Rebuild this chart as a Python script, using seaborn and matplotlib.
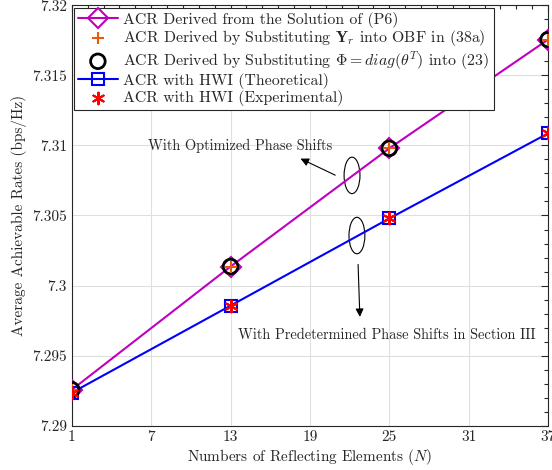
import numpy as np
import pandas as pd
import matplotlib
matplotlib.use("Agg")
import matplotlib.pyplot as plt
import seaborn as sns
from matplotlib.patches import Ellipse
from matplotlib.ticker import AutoMinorLocator

# 数据
N = [1, 13, 25, 37]
acr_p6 = [7.29257, 7.30136, 7.30979, 7.31755]
acr_yr = [7.29257, 7.30136, 7.30979, 7.31755]
acr_phi = [7.29257, 7.30136, 7.30979, 7.31755]
hwi_theory = [7.29236, 7.29857, 7.30479, 7.31086]
hwi_exp = [7.29236, 7.29857, 7.30479, 7.31086]

x_ticks = [1, 7, 13, 19, 25, 31, 37]
y_ticks = [7.29, 7.295, 7.3, 7.305, 7.31, 7.315, 7.32]
y_tick_labels = ['7.29', '7.295', '7.3', '7.305', '7.31', '7.315', '7.32']

sns.set_theme(style="whitegrid")
plt.rcParams['font.family'] = ['cmr10', 'DejaVu Serif']
plt.rcParams['mathtext.fontset'] = 'cm'
plt.rcParams['axes.formatter.use_mathtext'] = True
plt.rcParams['axes.unicode_minus'] = False

fig = plt.figure(figsize=(5.52, 4.70), dpi=100)
ax = fig.add_axes([0.130, 0.094, 0.863, 0.895])

df = pd.DataFrame({'N': N, 'p6': acr_p6, 'yr': acr_yr, 'phi': acr_phi,
                   'ht': hwi_theory, 'he': hwi_exp})

asterisk = (6, 2, 0)
sns.lineplot(data=df, x='N', y='p6', ax=ax, color='#BF00BF', lw=1.5, marker='D',
             markersize=10, markerfacecolor='none', markeredgecolor='#BF00BF',
             markeredgewidth=1.5, label='ACR Derived from the Solution of (P6)', zorder=3)
sns.scatterplot(data=df, x='N', y='yr', ax=ax, color='#E8590C', marker='+',
                s=80, linewidth=1.5,
                label=r'ACR Derived by Substituting $\mathbf{Y}_r$ into OBF in (38a)', zorder=5)
sns.scatterplot(data=df, x='N', y='phi', ax=ax, facecolor='none', edgecolor='black',
                marker='o', s=110, linewidth=2,
                label=r'ACR Derived by Substituting $\boldsymbol{\Phi} = diag(\theta^T)$ into (23)',
                zorder=4)
sns.lineplot(data=df, x='N', y='ht', ax=ax, color='#0000FF', lw=1.5, marker='s',
             markersize=8, markerfacecolor='none', markeredgecolor='#0000FF',
             markeredgewidth=1.5, label='ACR with HWI (Theoretical)', zorder=3)
sns.scatterplot(data=df, x='N', y='he', ax=ax, color='red', marker=asterisk,
                s=70, linewidth=1.5,
                label='ACR with HWI (Experimental)', zorder=5)

ax.set_xlim(1, 37)
ax.set_ylim(7.29, 7.32)
ax.set_xticks(x_ticks)
ax.set_xticklabels([str(v) for v in x_ticks])
ax.set_yticks(y_ticks)
ax.set_yticklabels(y_tick_labels)
ax.xaxis.set_minor_locator(AutoMinorLocator(5))
ax.yaxis.set_minor_locator(AutoMinorLocator(5))
ax.tick_params(which='both', direction='in', top=True, right=True, colors='#262626',
               labelsize=11, labelcolor='#262626')
ax.tick_params(which='major', length=5, width=0.8)
ax.tick_params(which='minor', length=3, width=0.8)
ax.grid(True, which='major', color='#DFDFDF', lw=0.8)
ax.set_facecolor('white')
for s in ax.spines.values():
    s.set_color('#262626')
    s.set_linewidth(0.8)

ax.set_xlabel(r'Numbers of Reflecting Elements ($N$)', fontsize=11, color='#262626', labelpad=2)
ax.set_ylabel('Average Achievable Rates (bps/Hz)', fontsize=11, color='#262626', labelpad=4)

leg = ax.legend(loc='upper left', fontsize=11.4, frameon=True, fancybox=False,
                edgecolor='#262626', framealpha=1, handlelength=2.5, borderpad=0.25,
                labelspacing=0.06, handletextpad=0.35, borderaxespad=0.15)
leg.get_frame().set_linewidth(0.8)

# 标注
ax.add_patch(Ellipse((22.18, 7.30786), 1.2, 0.0026, fill=False, lw=0.8, color='black'))
ax.add_patch(Ellipse((22.55, 7.30357), 1.2, 0.0026, fill=False, lw=0.8, color='black'))
ax.annotate('', xy=(18.1, 7.30914), xytext=(21.1, 7.30779),
            arrowprops=dict(arrowstyle='-|>', color='black', lw=0.8, mutation_scale=12))
ax.annotate('', xy=(22.78, 7.29757), xytext=(22.63, 7.30171),
            arrowprops=dict(arrowstyle='-|>', color='black', lw=0.8, mutation_scale=12))
ax.text(6.75, 7.30993, 'With Optimized Phase Shifts', fontsize=10.4, va='center', ha='left')
ax.text(13.55, 7.2965, 'With Predetermined Phase Shifts in Section III', fontsize=10.4,
        va='center', ha='left')

fig.savefig('out.png', dpi=100)
